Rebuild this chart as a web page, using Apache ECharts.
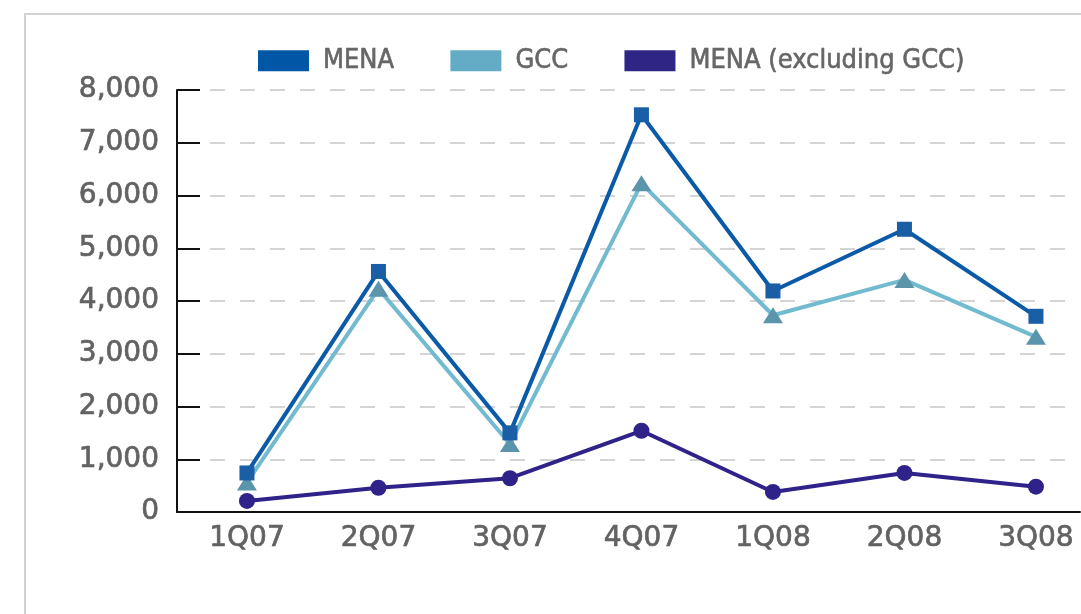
<!DOCTYPE html>
<html>
<head>
<meta charset="utf-8">
<script src="https://cdn.jsdelivr.net/npm/echarts@6/dist/echarts.min.js"></script>
<style>html,body{margin:0;padding:0;background:#fff;}#c{width:1081px;height:614px;}</style>
</head>
<body>
<div id="c"></div>
<script>
const categories = ['1Q07','2Q07','3Q07','4Q07','1Q08','2Q08','3Q08'];
const menaValues = [740, 4560, 1500, 7530, 4190, 5360, 3710];
const gccValues = [560, 4230, 1290, 6230, 3730, 4400, 3320];
const menaExGccValues = [210, 460, 640, 1540, 380, 740, 480];
const yTicks = [0, 1000, 2000, 3000, 4000, 5000, 6000, 7000, 8000];

const toPts = arr => arr.map((v, i) => [i, v]);
const chart = echarts.init(document.getElementById('c'));
const font = 'DejaVu Sans';
const txt = { fontFamily: font, fontSize: 28, color: '#626262', textBorderColor: '#626262', textBorderWidth: 0.7 };
chart.setOption({
  animation: false,
  backgroundColor: '#fff',
  graphic: [{
    type: 'rect', left: 24, top: 13, z: -10,
    shape: { width: 1120, height: 700 },
    style: { fill: '#fff', stroke: '#d2d2d2', lineWidth: 2 }
  }],
  legend: {
    left: 253, top: 42,
    itemWidth: 51, itemHeight: 21, itemGap: 56,
    icon: 'rect',
    textStyle: { fontFamily: 'DejaVu Sans Condensed', fontSize: 27, color: '#666', textBorderColor: '#666', textBorderWidth: 0.6, padding: [0, 0, 0, 9] },
    data: [
      { name: 'MENA', itemStyle: { color: '#0057a6' } },
      { name: 'GCC', itemStyle: { color: '#64acc5' } },
      { name: 'MENA (excluding GCC)', itemStyle: { color: '#2e2585' } }
    ]
  },
  grid: { left: 177, top: 90, width: 903, height: 422, containLabel: false },
  xAxis: {
    type: 'value', min: -0.532, max: 6.335,
    axisLine: { show: true, onZero: false, lineStyle: { color: '#111', width: 2 } },
    axisTick: { show: false },
    splitLine: { show: false },
    axisLabel: Object.assign({
      customValues: [0, 1, 2, 3, 4, 5, 6],
      formatter: v => categories[Math.round(v)],
      margin: 13
    }, txt)
  },
  yAxis: {
    type: 'value', min: 0, max: 8000, interval: 1000,
    axisLine: { show: true, onZero: false, lineStyle: { color: '#111', width: 2 } },
    axisTick: { show: true, inside: true, length: 23, lineStyle: { color: '#111', width: 2 } },
    splitLine: { show: true, lineStyle: { color: '#d4d4d4', width: 2, type: [15, 15], dashOffset: 27 } },
    axisLabel: Object.assign({
      margin: 18,
      formatter: v => yTicks.includes(v) ? v.toLocaleString('en-US') : ''
    }, txt)
  },
  series: [
    {
      name: 'MENA', type: 'line', z: 4, data: toPts(menaValues),
      lineStyle: { color: '#0a5aa8', width: 4 },
      symbol: 'rect', symbolSize: 15,
      itemStyle: { color: '#1a5ea6' }
    },
    {
      name: 'GCC', type: 'line', z: 3, data: toPts(gccValues),
      lineStyle: { color: '#72bad0', width: 4 },
      symbol: 'triangle', symbolSize: [20, 16],
      itemStyle: { color: '#5a95ac' }
    },
    {
      name: 'MENA (excluding GCC)', type: 'line', z: 2, data: toPts(menaExGccValues),
      lineStyle: { color: '#2f2289', width: 4 },
      symbol: 'circle', symbolSize: 16,
      itemStyle: { color: '#2f2289' }
    }
  ]
});
</script>
</body>
</html>
